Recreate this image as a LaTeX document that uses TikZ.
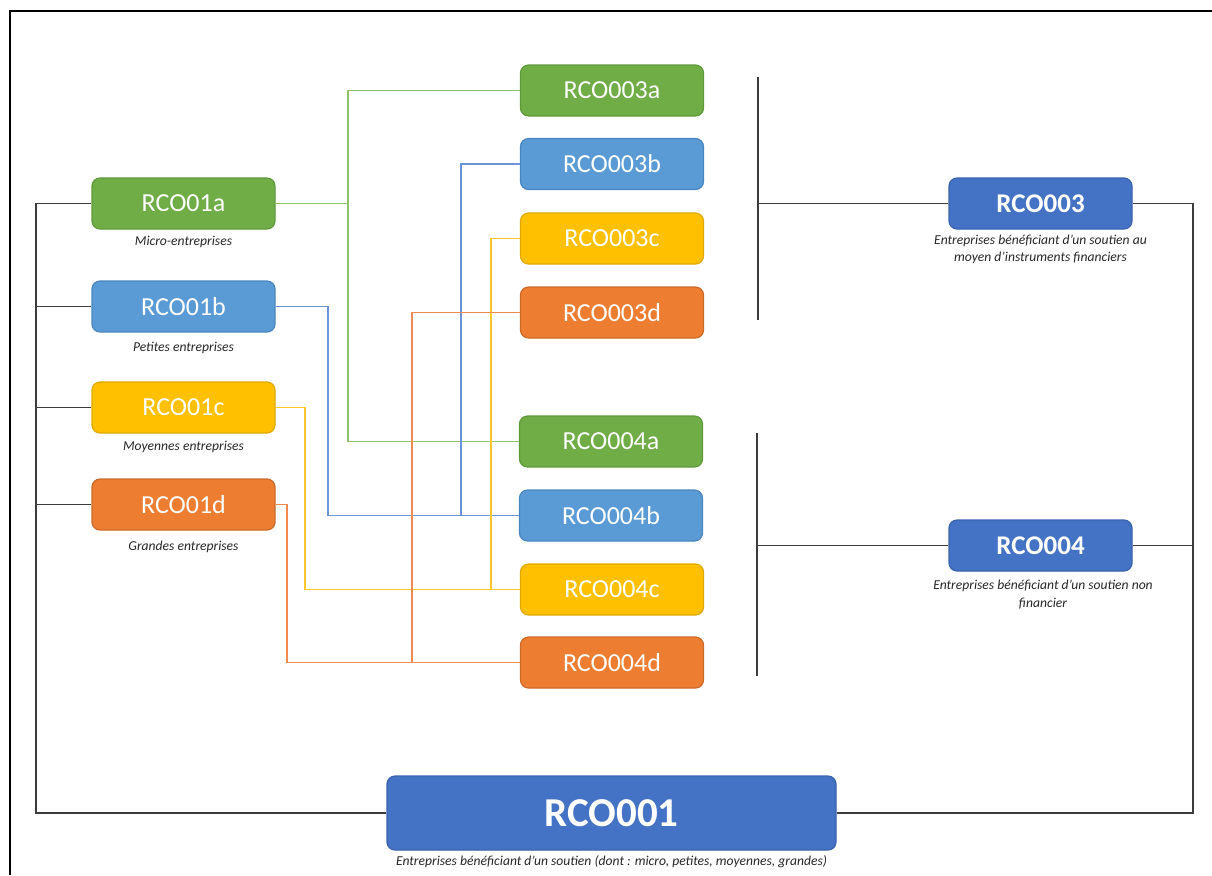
\documentclass[tikz,border=0pt]{standalone}
\usepackage{fontspec}
\setmainfont{Carlito}
\definecolor{cgreen}{HTML}{70AD47}
\definecolor{cgreenD}{HTML}{5E9A3A}
\definecolor{cgreenL}{HTML}{8DC26A}
\definecolor{cblue}{HTML}{5B9BD5}
\definecolor{cblueD}{HTML}{4A86BE}
\definecolor{cblueL}{HTML}{6A93DA}
\definecolor{cyellow}{HTML}{FFC000}
\definecolor{cyellowD}{HTML}{E0A800}
\definecolor{cyellowL}{HTML}{FFC72C}
\definecolor{corange}{HTML}{ED7D31}
\definecolor{corangeD}{HTML}{CC6A28}
\definecolor{corangeL}{HTML}{F08A50}
\definecolor{cdark}{HTML}{4472C4}
\definecolor{cdarkD}{HTML}{3A63AE}
\definecolor{cline}{HTML}{3C3C3C}
\tikzset{
  box/.style={rounded corners=4pt, minimum width=91.5pt, minimum height=25.5pt, inner sep=0pt, text=white, font=\fontsize{13}{15}\selectfont, line width=0.6pt},
  gbox/.style={box, fill=cgreen, draw=cgreenD},
  bbox/.style={box, fill=cblue, draw=cblueD},
  ybox/.style={box, fill=cyellow, draw=cyellowD},
  obox/.style={box, fill=corange, draw=corangeD},
  dbox/.style={box, fill=cdark, draw=cdarkD, font=\fontsize{13.5}{16}\selectfont\bfseries},
  captxt/.style={font=\fontsize{6.8}{8.6}\selectfont\itshape, text=black!85, align=center, inner sep=0pt},
  kline/.style={draw=cline, line width=0.7pt},
  gline/.style={draw=cgreenL, line width=0.7pt},
  bline/.style={draw=cblueL, line width=0.7pt},
  yline/.style={draw=cyellowL, line width=0.7pt},
  oline/.style={draw=corangeL, line width=0.7pt},
}
\begin{document}
\begin{tikzpicture}[x=0.5pt, y=-0.5pt]
\useasboundingbox (0,0) rectangle (1212,875);
% frame
\draw[line width=1.2pt, black] (10,875) -- (10,11) -- (1212,11);

% left boxes
\node[gbox] (r1a) at (183.5,203.5) {RCO01a};
\node[bbox] (r1b) at (183.5,306.5) {RCO01b};
\node[ybox] (r1c) at (183.5,407.5) {RCO01c};
\node[obox] (r1d) at (183.5,504.5) {RCO01d};
\node[captxt] (c1a) at (183.5,242) {Micro-entreprises};
\node[captxt] (c1b) at (183.5,348) {Petites entreprises};
\node[captxt] (c1c) at (183.5,447) {Moyennes entreprises};
\node[captxt] (c1d) at (183.5,547) {Grandes entreprises};

% middle boxes
\node[gbox] (r3a) at (612,90.5) {RCO003a};
\node[bbox] (r3b) at (612,164) {RCO003b};
\node[ybox] (r3c) at (612,238.5) {RCO003c};
\node[obox] (r3d) at (612,312.5) {RCO003d};
\node[gbox] (r4a) at (611,441.5) {RCO004a};
\node[bbox] (r4b) at (611,515.5) {RCO004b};
\node[ybox] (r4c) at (612,589.5) {RCO004c};
\node[obox] (r4d) at (612,662.5) {RCO004d};

% right boxes
\node[dbox] (r003) at (1040.5,203.5) {RCO003};
\node[captxt] (c003) at (1040.5,249.5) {Entreprises bénéficiant d’un soutien au\\moyen d’instruments financiers};
\node[dbox] (r004) at (1040.5,545.5) {RCO004};
\node[captxt] (c004) at (1043,594.5) {Entreprises bénéficiant d’un soutien non\\financier};

% bottom box
\node[dbox, minimum width=224.5pt, minimum height=37pt, font=\fontsize{20.5}{24}\selectfont\bfseries] (r001) at (611.5,813) {RCO001};
\node[captxt] (c001) at (611.5,862) {Entreprises bénéficiant d’un soutien (dont : micro, petites, moyennes, grandes)};

% helper coordinates
\coordinate (lv) at (36,0);
\coordinate (rv) at (1193,0);
\coordinate (gv) at (348,0);
\coordinate (bv1) at (328,0);
\coordinate (bv2) at (461,0);
\coordinate (yv1) at (305,0);
\coordinate (yv2) at (491,0);
\coordinate (ov1) at (287,0);
\coordinate (ov2) at (412,0);
\coordinate (t1) at (758,77);
\coordinate (t1b) at (758,320);
\coordinate (t2) at (757,433);
\coordinate (t2b) at (757,676);

% left black bracket
\draw[kline] (r1a.west) -- (r1a.west -| lv) -- (r001.west -| lv) -- (r001.west);
\draw[kline] (r1b.west) -- (r1b.west -| lv);
\draw[kline] (r1c.west) -- (r1c.west -| lv);
\draw[kline] (r1d.west) -- (r1d.west -| lv);

% right black bracket
\draw[kline] (r003.east) -- (r003.east -| rv) -- (r001.east -| rv) -- (r001.east);
\draw[kline] (r004.east) -- (r004.east -| rv);

% middle bars
\draw[kline] (t1) -- (t1b);
\draw[kline] (r003.west) -- (r003.west -| t1);
\draw[kline] (t2) -- (t2b);
\draw[kline] (r004.west) -- (r004.west -| t2);

% green
\draw[gline] (r1a.east) -- (r1a.east -| gv);
\draw[gline] (r3a.west) -- (r3a.west -| gv) -- (r4a.west -| gv) -- (r4a.west);
% blue
\draw[bline] (r1b.east) -- (r1b.east -| bv1) -- (r4b.west -| bv1) -- (r4b.west);
\draw[bline] (r3b.west) -- (r3b.west -| bv2) -- (r4b.west -| bv2);
% yellow
\draw[yline] (r1c.east) -- (r1c.east -| yv1) -- (r4c.west -| yv1) -- (r4c.west);
\draw[yline] (r3c.west) -- (r3c.west -| yv2) -- (r4c.west -| yv2);
% orange
\draw[oline] (r1d.east) -- (r1d.east -| ov1) -- (r4d.west -| ov1) -- (r4d.west);
\draw[oline] (r3d.west) -- (r3d.west -| ov2) -- (r4d.west -| ov2);
\end{tikzpicture}
\end{document}
